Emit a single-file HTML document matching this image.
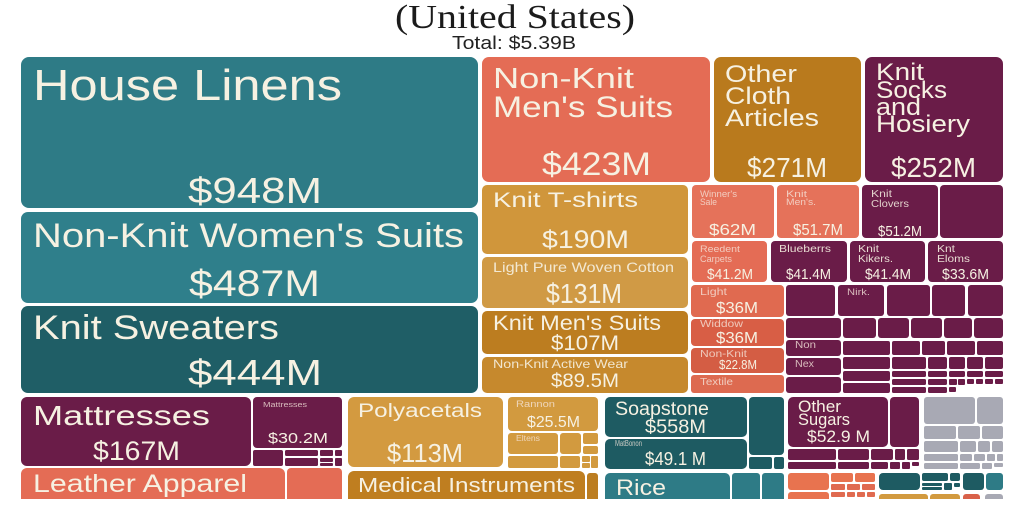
<!DOCTYPE html>
<html><head><meta charset="utf-8"><style>
html,body{margin:0;padding:0;background:#fff;}
svg{display:block;}
.t{fill:#f6f1e2;font-family:"Liberation Sans",sans-serif;}
.f{fill:#f6e6dc;opacity:.78;font-family:"Liberation Sans",sans-serif;}
.T1{fill:#2e7b86}.T2{fill:#1e5b62}.C1{fill:#e46c55}.C2{fill:#d9614a}.M1{fill:#d29a3f}.M2{fill:#bc7d20}.M3{fill:#c6892d}.P{fill:#6a1c48}.G{fill:#a8a9b4}
</style></head><body>
<svg width="1024" height="512" viewBox="0 0 1024 512" xmlns="http://www.w3.org/2000/svg">
<rect width="1024" height="512" fill="#fff"/>
<text x="395" y="28" font-family="Liberation Serif,serif" font-size="34" fill="#1b1b1b" textLength="240" lengthAdjust="spacingAndGlyphs">(United States)</text>
<text x="452" y="49" font-family="Liberation Sans,sans-serif" font-size="18" fill="#222" textLength="124" lengthAdjust="spacingAndGlyphs">Total: $5.39B</text>

<!-- left big column -->
<rect class="T1" x="21" y="57" width="457" height="151" rx="8"/>
<rect class="T1" x="21" y="212" width="457" height="91" rx="7" style="fill:#2f7f8b"/>
<rect class="T2" x="21" y="306" width="457" height="87" rx="7" style="fill:#1f5e66"/>

<!-- top right -->
<rect class="C1" x="482" y="57" width="228" height="125" rx="7"/>
<rect class="M2" x="714" y="57" width="147" height="125" rx="7" style="fill:#b97a1d"/>
<rect class="P" x="865" y="57" width="138" height="125" rx="7"/>

<rect class="M1" x="482" y="185" width="206" height="69" rx="5" style="fill:#d0963b"/>
<rect class="M1" x="482" y="257" width="206" height="51" rx="5" style="fill:#d09a45"/>
<rect class="M2" x="482" y="311" width="206" height="43" rx="5"/>
<rect class="M3" x="482" y="357" width="206" height="36" rx="5"/>

<rect class="C1" x="692" y="185" width="82" height="53" rx="4" style="fill:#e5725a"/>
<rect class="C1" x="777" y="185" width="82" height="53" rx="4" style="fill:#e5725a"/>
<rect class="P" x="862" y="185" width="76" height="53" rx="4"/>
<rect class="P" x="940" y="185" width="63" height="53" rx="4"/>
<rect class="C1" x="692" y="241" width="75" height="41" rx="4"/>
<rect class="P" x="771" y="241" width="76" height="41" rx="4"/>
<rect class="P" x="850" y="241" width="75" height="41" rx="4"/>
<rect class="P" x="928" y="241" width="75" height="41" rx="4"/>
<rect x="691" y="285" width="93" height="32" rx="4" fill="#e06a50"/>
<rect x="691" y="319" width="93" height="27" rx="4" fill="#d85e45"/>
<rect x="691" y="348" width="93" height="25" rx="4" fill="#d45d44"/>
<rect x="691" y="375" width="93" height="18" rx="3" fill="#dd6a50"/>

<!-- purple grid -->
<g class="P">
<rect x="786" y="285" width="49" height="31" rx="3"/><rect x="838" y="285" width="46" height="31" rx="3"/><rect x="887" y="285" width="43" height="31" rx="3"/><rect x="932" y="285" width="33" height="31" rx="3"/><rect x="968" y="285" width="35" height="31" rx="3"/>
<rect x="786" y="318" width="55" height="20" rx="3"/><rect x="843" y="318" width="33" height="20" rx="3"/><rect x="878" y="318" width="31" height="20" rx="3"/><rect x="911" y="318" width="31" height="20" rx="3"/><rect x="944" y="318" width="28" height="20" rx="3"/><rect x="974" y="318" width="29" height="20" rx="3"/>
<rect x="786" y="340" width="55" height="16" rx="3"/><rect x="786" y="358" width="55" height="17" rx="3"/><rect x="786" y="377" width="55" height="16" rx="3"/>
<rect x="843" y="341" width="47" height="14" rx="2"/><rect x="892" y="341" width="28" height="14" rx="2"/><rect x="922" y="341" width="23" height="14" rx="2"/><rect x="947" y="341" width="28" height="14" rx="2"/><rect x="977" y="341" width="26" height="14" rx="2"/>
<rect x="843" y="357" width="47" height="12" rx="2"/><rect x="892" y="357" width="34" height="12" rx="2"/><rect x="928" y="357" width="19" height="12" rx="2"/><rect x="949" y="357" width="16" height="12" rx="2"/><rect x="967" y="357" width="16" height="12" rx="2"/><rect x="985" y="357" width="18" height="12" rx="2"/>
<rect x="843" y="371" width="47" height="10" rx="2"/><rect x="843" y="383" width="47" height="10" rx="2"/>
<rect x="892" y="371" width="34" height="6" rx="1.5"/><rect x="892" y="379" width="34" height="6" rx="1.5"/><rect x="892" y="387" width="34" height="6" rx="1.5"/>
<rect x="928" y="371" width="19" height="6" rx="1.5"/><rect x="928" y="379" width="19" height="6" rx="1.5"/><rect x="928" y="387" width="19" height="6" rx="1.5"/>
<rect x="949" y="371" width="16" height="6" rx="1.5"/><rect x="949" y="379" width="8" height="6" rx="1"/><rect x="958" y="379" width="7" height="6" rx="1"/><rect x="949" y="387" width="7" height="5" rx="1"/>
<rect x="967" y="371" width="16" height="6" rx="1.5"/><rect x="967" y="379" width="7" height="5" rx="1"/><rect x="976" y="379" width="7" height="5" rx="1"/>
<rect x="985" y="371" width="18" height="6" rx="1.5"/><rect x="985" y="379" width="8" height="5" rx="1"/><rect x="995" y="379" width="8" height="5" rx="1"/>
</g>

<!-- bottom row -->
<rect class="P" x="21" y="397" width="230" height="69" rx="6"/>
<rect class="P" x="253" y="397" width="89" height="51" rx="4"/>
<g class="P">
<rect x="253" y="450" width="30" height="16" rx="2"/>
<rect x="285" y="450" width="33" height="6" rx="1.5"/><rect x="285" y="458" width="33" height="8" rx="1.5"/>
<rect x="320" y="450" width="13" height="6" rx="1"/><rect x="320" y="458" width="13" height="4" rx="1"/><rect x="320" y="463" width="13" height="3" rx="1"/>
<rect x="335" y="450" width="7" height="6" rx="1"/><rect x="335" y="458" width="7" height="8" rx="1"/>
</g>
<rect class="C1" x="21" y="468" width="264" height="40" rx="6"/>
<rect class="C1" x="287" y="468" width="55" height="40" rx="4"/>

<rect class="M1" x="348" y="397" width="155" height="70" rx="6" style="fill:#d39a40"/>
<rect class="M1" x="508" y="397" width="90" height="34" rx="4"/>
<g class="M1">
<rect x="508" y="433" width="50" height="21" rx="3"/><rect x="560" y="433" width="21" height="21" rx="3"/><rect x="583" y="433" width="15" height="11" rx="2"/><rect x="583" y="446" width="15" height="8" rx="2"/>
<rect x="508" y="456" width="50" height="12" rx="2"/><rect x="560" y="456" width="20" height="12" rx="2"/><rect x="582" y="456" width="8" height="6" rx="1"/><rect x="582" y="463" width="8" height="5" rx="1"/><rect x="591" y="456" width="7" height="12" rx="1"/>
</g>
<rect class="M2" x="348" y="471" width="237" height="40" rx="6" style="fill:#bf7e20"/>
<rect class="M2" x="587" y="473" width="11" height="40" rx="3"/>

<rect class="T2" x="605" y="397" width="142" height="40" rx="5"/>
<rect class="T2" x="749" y="397" width="35" height="58" rx="4"/>
<rect class="T2" x="605" y="439" width="142" height="30" rx="5"/>
<rect class="T2" x="749" y="457" width="23" height="12" rx="2"/>
<rect class="T2" x="774" y="457" width="10" height="12" rx="2"/>
<rect class="T1" x="605" y="473" width="125" height="40" rx="5"/>
<rect class="T1" x="732" y="473" width="28" height="40" rx="3"/>
<rect class="T1" x="762" y="473" width="22" height="40" rx="3"/>

<rect class="P" x="788" y="397" width="100" height="50" rx="5"/>
<rect class="P" x="890" y="397" width="29" height="50" rx="4"/>
<g class="P">
<rect x="788" y="449" width="48" height="11" rx="2"/><rect x="838" y="449" width="31" height="11" rx="2"/><rect x="871" y="449" width="22" height="11" rx="2"/><rect x="895" y="449" width="10" height="11" rx="1.5"/><rect x="907" y="449" width="12" height="11" rx="1.5"/>
<rect x="788" y="462" width="48" height="7" rx="1.5"/><rect x="838" y="462" width="31" height="7" rx="1.5"/><rect x="871" y="462" width="17" height="7" rx="1.5"/><rect x="890" y="462" width="10" height="7" rx="1"/><rect x="902" y="462" width="8" height="7" rx="1"/><rect x="912" y="462" width="7" height="4" rx="1"/>
</g>
<g class="G">
<rect x="924" y="397" width="51" height="27" rx="3"/><rect x="977" y="397" width="26" height="27" rx="3"/>
<rect x="924" y="426" width="32" height="13" rx="2"/><rect x="958" y="426" width="22" height="13" rx="2"/><rect x="982" y="426" width="21" height="13" rx="2"/>
<rect x="924" y="441" width="34" height="11" rx="2"/><rect x="960" y="441" width="16" height="11" rx="2"/><rect x="978" y="441" width="12" height="11" rx="2"/><rect x="992" y="441" width="11" height="11" rx="2"/>
<rect x="924" y="454" width="34" height="7" rx="1.5"/><rect x="960" y="454" width="12" height="7" rx="1.5"/><rect x="974" y="454" width="11" height="7" rx="1.5"/><rect x="987" y="454" width="8" height="7" rx="1"/><rect x="997" y="454" width="6" height="7" rx="1"/>
<rect x="924" y="463" width="34" height="6" rx="1.5"/><rect x="960" y="463" width="20" height="6" rx="1.5"/><rect x="982" y="463" width="10" height="6" rx="1"/><rect x="994" y="463" width="9" height="4" rx="1"/>
</g>
<g>
<rect x="788" y="473" width="41" height="17" rx="3" fill="#e8734f"/><rect x="788" y="492" width="41" height="16" rx="3" fill="#e8734f"/>
<rect x="831" y="473" width="22" height="9" rx="2" fill="#e8734f"/><rect x="855" y="473" width="20" height="9" rx="2" fill="#e8734f"/>
<rect x="831" y="484" width="14" height="6" rx="1" fill="#e06a50"/><rect x="847" y="484" width="13" height="6" rx="1" fill="#e06a50"/><rect x="862" y="484" width="13" height="6" rx="1" fill="#e06a50"/>
<rect x="831" y="492" width="14" height="5" rx="1" fill="#e06a50"/><rect x="847" y="492" width="8" height="5" rx="1" fill="#e06a50"/><rect x="857" y="492" width="8" height="5" rx="1" fill="#e06a50"/><rect x="867" y="492" width="8" height="5" rx="1" fill="#e06a50"/>
<rect class="T2" x="879" y="473" width="41" height="17" rx="4"/>
<rect class="T2" x="922" y="473" width="26" height="8" rx="2"/><rect class="T2" x="950" y="473" width="10" height="8" rx="2"/>
<rect class="T2" x="922" y="483" width="20" height="3" rx="1"/><rect class="T2" x="922" y="487" width="20" height="3" rx="1"/><rect class="T2" x="944" y="483" width="8" height="7" rx="1"/><rect class="T2" x="954" y="483" width="6" height="4" rx="1"/>
<rect class="T2" x="963" y="473" width="21" height="17" rx="3"/><rect class="T1" x="986" y="473" width="17" height="17" rx="3"/>
<rect class="M1" x="879" y="494" width="49" height="12" rx="3"/><rect class="M1" x="930" y="494" width="30" height="12" rx="3"/>
<rect class="C2" x="963" y="494" width="17" height="12" rx="3"/><rect class="G" x="985" y="494" width="18" height="12" rx="3"/>
</g>

<!-- white cut at bottom -->
<rect x="0" y="499" width="1024" height="13" fill="#fff"/>

<!-- labels -->
<text class="t" x="33" y="100" font-size="44" textLength="309" lengthAdjust="spacingAndGlyphs">House Linens</text>
<text class="t" x="188" y="203" font-size="36" textLength="134" lengthAdjust="spacingAndGlyphs">$948M</text>
<text class="t" x="33" y="247" font-size="34" textLength="431" lengthAdjust="spacingAndGlyphs">Non-Knit Women's Suits</text>
<text class="t" x="189" y="296" font-size="37" textLength="131" lengthAdjust="spacingAndGlyphs">$487M</text>
<text class="t" x="33" y="339" font-size="34" textLength="246" lengthAdjust="spacingAndGlyphs">Knit Sweaters</text>
<text class="t" x="188" y="385" font-size="36" textLength="134" lengthAdjust="spacingAndGlyphs">$444M</text>

<text class="t" x="493" y="88" font-size="29" textLength="141" lengthAdjust="spacingAndGlyphs">Non-Knit</text>
<text class="t" x="493" y="117" font-size="30" textLength="180" lengthAdjust="spacingAndGlyphs">Men's Suits</text>
<text class="t" x="542" y="175" font-size="32" textLength="109" lengthAdjust="spacingAndGlyphs">$423M</text>
<text class="t" x="725" y="82" font-size="24" textLength="72" lengthAdjust="spacingAndGlyphs">Other</text>
<text class="t" x="725" y="104" font-size="24" textLength="66" lengthAdjust="spacingAndGlyphs">Cloth</text>
<text class="t" x="725" y="126" font-size="24" textLength="94" lengthAdjust="spacingAndGlyphs">Articles</text>
<text class="t" x="747" y="177" font-size="28" textLength="80" lengthAdjust="spacingAndGlyphs">$271M</text>
<text class="t" x="876" y="80" font-size="24" textLength="48" lengthAdjust="spacingAndGlyphs">Knit</text>
<text class="t" x="876" y="98" font-size="24" textLength="71" lengthAdjust="spacingAndGlyphs">Socks</text>
<text class="t" x="876" y="115" font-size="24" textLength="45" lengthAdjust="spacingAndGlyphs">and</text>
<text class="t" x="876" y="132" font-size="24" textLength="94" lengthAdjust="spacingAndGlyphs">Hosiery</text>
<text class="t" x="891" y="177" font-size="28" textLength="85" lengthAdjust="spacingAndGlyphs">$252M</text>

<text class="t" x="493" y="207" font-size="21" textLength="145" lengthAdjust="spacingAndGlyphs">Knit T-shirts</text>
<text class="t" x="542" y="248" font-size="25" textLength="87" lengthAdjust="spacingAndGlyphs">$190M</text>
<text class="t" x="493" y="272" font-size="14" textLength="181" lengthAdjust="spacingAndGlyphs" opacity=".9">Light Pure Woven Cotton</text>
<text class="t" x="546" y="303" font-size="28" textLength="76" lengthAdjust="spacingAndGlyphs">$131M</text>
<text class="t" x="493" y="330" font-size="21" textLength="168" lengthAdjust="spacingAndGlyphs">Knit Men's Suits</text>
<text class="t" x="551" y="350" font-size="21" textLength="68" lengthAdjust="spacingAndGlyphs">$107M</text>
<text class="t" x="493" y="368" font-size="12" textLength="135" lengthAdjust="spacingAndGlyphs" opacity=".9">Non-Knit Active Wear</text>
<text class="t" x="551" y="387" font-size="19" textLength="68" lengthAdjust="spacingAndGlyphs">$89.5M</text>

<text class="f" x="700" y="197" font-size="9" textLength="37" lengthAdjust="spacingAndGlyphs">Winner's</text>
<text class="f" x="700" y="205" font-size="9" textLength="17" lengthAdjust="spacingAndGlyphs">Sale</text>
<text class="t" x="709" y="235" font-size="16" textLength="47" lengthAdjust="spacingAndGlyphs">$62M</text>
<text class="f" x="786" y="197" font-size="9" textLength="21" lengthAdjust="spacingAndGlyphs">Knit</text>
<text class="f" x="786" y="205" font-size="9" textLength="30" lengthAdjust="spacingAndGlyphs">Men's.</text>
<text class="t" x="793" y="235" font-size="16" textLength="50" lengthAdjust="spacingAndGlyphs">$51.7M</text>
<text class="t" x="871" y="197" font-size="10" textLength="21" lengthAdjust="spacingAndGlyphs" opacity=".85">Knit</text>
<text class="t" x="871" y="207" font-size="10" textLength="38" lengthAdjust="spacingAndGlyphs" opacity=".85">Clovers</text>
<text class="t" x="878" y="236" font-size="15" textLength="44" lengthAdjust="spacingAndGlyphs">$51.2M</text>
<text class="f" x="700" y="252" font-size="9" textLength="40" lengthAdjust="spacingAndGlyphs">Reedent</text>
<text class="f" x="700" y="262" font-size="9" textLength="32" lengthAdjust="spacingAndGlyphs">Carpets</text>
<text class="t" x="707" y="279" font-size="15" textLength="46" lengthAdjust="spacingAndGlyphs">$41.2M</text>
<text class="t" x="779" y="252" font-size="10" textLength="52" lengthAdjust="spacingAndGlyphs" opacity=".9">Blueberrs</text>
<text class="t" x="786" y="279" font-size="15" textLength="45" lengthAdjust="spacingAndGlyphs">$41.4M</text>
<text class="t" x="858" y="252" font-size="10" textLength="21" lengthAdjust="spacingAndGlyphs" opacity=".9">Knit</text>
<text class="t" x="858" y="262" font-size="10" textLength="35" lengthAdjust="spacingAndGlyphs" opacity=".9">Kikers.</text>
<text class="t" x="865" y="279" font-size="15" textLength="46" lengthAdjust="spacingAndGlyphs">$41.4M</text>
<text class="t" x="937" y="252" font-size="10" textLength="18" lengthAdjust="spacingAndGlyphs" opacity=".9">Knt</text>
<text class="t" x="937" y="262" font-size="10" textLength="33" lengthAdjust="spacingAndGlyphs" opacity=".9">Eloms</text>
<text class="t" x="942" y="279" font-size="15" textLength="47" lengthAdjust="spacingAndGlyphs">$33.6M</text>
<text class="f" x="700" y="295" font-size="10" textLength="27" lengthAdjust="spacingAndGlyphs">Light</text>
<text class="t" x="716" y="313" font-size="16" textLength="42" lengthAdjust="spacingAndGlyphs">$36M</text>
<text class="f" x="700" y="327" font-size="10" textLength="43" lengthAdjust="spacingAndGlyphs">Widdow</text>
<text class="t" x="716" y="343" font-size="16" textLength="42" lengthAdjust="spacingAndGlyphs">$36M</text>
<text class="f" x="700" y="357" font-size="10" textLength="47" lengthAdjust="spacingAndGlyphs">Non-Knit</text>
<text class="t" x="719" y="369" font-size="13" textLength="38" lengthAdjust="spacingAndGlyphs">$22.8M</text>
<text class="f" x="700" y="385" font-size="10" textLength="33" lengthAdjust="spacingAndGlyphs">Textile</text>
<text class="f" x="847" y="295" font-size="9" textLength="23" lengthAdjust="spacingAndGlyphs">Nirk.</text>
<text class="f" x="795" y="348" font-size="10" textLength="21" lengthAdjust="spacingAndGlyphs">Non</text>
<text class="f" x="795" y="367" font-size="10" textLength="19" lengthAdjust="spacingAndGlyphs">Nex</text>

<text class="t" x="33" y="425" font-size="28" textLength="177" lengthAdjust="spacingAndGlyphs">Mattresses</text>
<text class="t" x="93" y="460" font-size="27" textLength="87" lengthAdjust="spacingAndGlyphs">$167M</text>
<text class="f" x="263" y="407" font-size="7" textLength="44" lengthAdjust="spacingAndGlyphs">Mattresses</text>
<text class="t" x="268" y="443" font-size="15" textLength="60" lengthAdjust="spacingAndGlyphs">$30.2M</text>
<text class="t" x="33" y="492" font-size="25" textLength="214" lengthAdjust="spacingAndGlyphs">Leather Apparel</text>
<text class="t" x="358" y="417" font-size="19" textLength="124" lengthAdjust="spacingAndGlyphs">Polyacetals</text>
<text class="t" x="387" y="462" font-size="26" textLength="76" lengthAdjust="spacingAndGlyphs">$113M</text>
<text class="t" x="358" y="492" font-size="20" textLength="217" lengthAdjust="spacingAndGlyphs">Medical Instruments</text>
<text class="f" x="516" y="407" font-size="9" textLength="39" lengthAdjust="spacingAndGlyphs">Rannon</text>
<text class="t" x="527" y="427" font-size="16" textLength="53" lengthAdjust="spacingAndGlyphs">$25.5M</text>
<text class="f" x="516" y="441" font-size="8" textLength="24" lengthAdjust="spacingAndGlyphs">Eltens</text>
<text class="t" x="615" y="415" font-size="19" textLength="94" lengthAdjust="spacingAndGlyphs">Soapstone</text>
<text class="t" x="645" y="433" font-size="19" textLength="61" lengthAdjust="spacingAndGlyphs">$558M</text>
<text class="f" x="615" y="446" font-size="8" textLength="27" lengthAdjust="spacingAndGlyphs">MatBonon</text>
<text class="t" x="645" y="465" font-size="18" textLength="61" lengthAdjust="spacingAndGlyphs">$49.1 M</text>
<text class="t" x="616" y="495" font-size="22" textLength="50" lengthAdjust="spacingAndGlyphs">Rice</text>
<text class="t" x="798" y="412" font-size="17" textLength="43" lengthAdjust="spacingAndGlyphs">Other</text>
<text class="t" x="798" y="425" font-size="17" textLength="52" lengthAdjust="spacingAndGlyphs">Sugars</text>
<text class="t" x="807" y="442" font-size="17" textLength="63" lengthAdjust="spacingAndGlyphs">$52.9 M</text>
</svg>
</body></html>
